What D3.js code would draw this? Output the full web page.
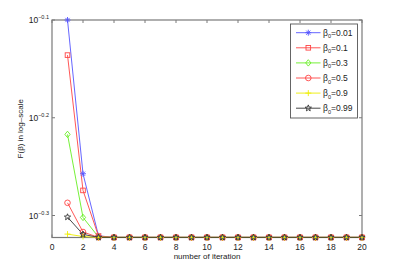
<!DOCTYPE html>
<html lang="en">
<head>
    <meta charset="UTF-8">
    <title>F(beta) per iteration</title>
    <script src="https://d3js.org/d3.v7.min.js"></script>
    <style>
        body { margin: 0; background: #fff; }
        svg { font-family: "Liberation Sans", Arial, sans-serif; }
    </style>
</head>
<body>
    <div id="chart"></div>
    <script>
        const iterations = d3.range(1, 21);
        const betaLabels = ["0.01", "0.1", "0.3", "0.5", "0.9", "0.99"];
        const fConverged = 0.4760;
        const beta001 = [0.7943, 0.5530, 0.4778];
        const beta01 = [0.7313, 0.5317, 0.4775];
        const beta03 = [0.6067, 0.4989, 0.4764];
        const beta05 = [0.5164, 0.4821, 0.4760];
        const beta09 = [0.4797, 0.4770, 0.4760];
        const beta099 = [0.4993, 0.4794, 0.4760];
        const xTicks = d3.range(0, 21, 2);
        const yTickExps = [-0.1, -0.2, -0.3];

        const colors = ["#5555ff", "#ff4444", "#66ee22", "#ff4444", "#eeee00", "#333333"];
        const markers = ["asterisk", "square", "diamond", "circle", "plus", "star"];

        const pad = arr => arr.concat(d3.range(iterations.length - arr.length).map(() => fConverged));
        const series = [beta001, beta01, beta03, beta05, beta09, beta099].map((s, i) => ({
            label: betaLabels[i],
            color: colors[i],
            marker: markers[i],
            values: pad(s)
        }));

        const width = 399, height = 268;
        const margin = { left: 52, right: 37, top: 20, bottom: 30.5 };

        const svg = d3.select("#chart").append("svg")
            .attr("width", width)
            .attr("height", height);

        const x = d3.scaleLinear().domain([0, 20]).range([margin.left, width - margin.right]);
        const y = d3.scaleLog().domain([Math.pow(10, -0.3225), Math.pow(10, -0.1)])
            .range([height - margin.bottom, margin.top]);

        const axisColor = "#7a7a7a";
        const yTickVals = yTickExps.map(e => Math.pow(10, e));

        // box + inside ticks
        const g = svg.append("g");
        g.append("rect")
            .attr("x", x(0)).attr("y", y.range()[1])
            .attr("width", x(20) - x(0)).attr("height", y.range()[0] - y.range()[1])
            .attr("fill", "none").attr("stroke", axisColor).attr("stroke-width", 1.2);

        xTicks.forEach(t => {
            g.append("line").attr("x1", x(t)).attr("x2", x(t))
                .attr("y1", y.range()[0]).attr("y2", y.range()[0] - 3).attr("stroke", axisColor);
            g.append("line").attr("x1", x(t)).attr("x2", x(t))
                .attr("y1", y.range()[1]).attr("y2", y.range()[1] + 3).attr("stroke", axisColor);
            g.append("text").attr("x", x(t)).attr("y", y.range()[0] + 12)
                .attr("text-anchor", "middle").attr("font-size", 8.5).attr("fill", "#222")
                .text(t);
        });

        yTickVals.forEach((v, i) => {
            g.append("line").attr("x1", x(0)).attr("x2", x(0) + 3)
                .attr("y1", y(v)).attr("y2", y(v)).attr("stroke", axisColor);
            g.append("line").attr("x1", x(20)).attr("x2", x(20) - 3)
                .attr("y1", y(v)).attr("y2", y(v)).attr("stroke", axisColor);
            const t = g.append("text").attr("x", x(0) - 3).attr("y", y(v) + 3)
                .attr("text-anchor", "end").attr("fill", "#222").attr("font-size", 8.5);
            t.append("tspan").text("10");
            t.append("tspan").attr("dy", -4).attr("font-size", 5.5)
                .text("\u2212" + Math.abs(yTickExps[i]));
        });

        // axis labels
        svg.append("text").attr("x", (x(0) + x(20)) / 2).attr("y", 259)
            .attr("text-anchor", "middle").attr("font-size", 8).attr("fill", "#222")
            .text("number of iteration");
        svg.append("text")
            .attr("transform", `translate(23,${(y.range()[0] + y.range()[1]) / 2}) rotate(-90)`)
            .attr("text-anchor", "middle").attr("font-size", 8).attr("fill", "#222")
            .text("F(β) in log–scale");

        function drawMarker(sel, type, color, cx, cy) {
            const m = sel.append("g").attr("transform", `translate(${cx},${cy})`)
                .attr("fill", "none").attr("stroke", color).attr("stroke-width", 0.9);
            if (type === "asterisk") {
                m.append("path").attr("d", "M-3,0H3M0,-3V3M-2.1,-2.1L2.1,2.1M-2.1,2.1L2.1,-2.1");
            } else if (type === "square") {
                m.append("rect").attr("x", -2.3).attr("y", -2.3).attr("width", 4.6).attr("height", 4.6);
            } else if (type === "diamond") {
                m.append("path").attr("d", "M0,-3.2L2.6,0L0,3.2L-2.6,0Z");
            } else if (type === "circle") {
                m.append("circle").attr("r", 2.8);
            } else if (type === "plus") {
                m.append("path").attr("d", "M-3,0H3M0,-3V3");
            } else if (type === "star") {
                const pts = d3.range(10).map(k => {
                    const r = k % 2 ? 1.4 : 3.3;
                    const a = -Math.PI / 2 + k * Math.PI / 5;
                    return [r * Math.cos(a), r * Math.sin(a)];
                });
                m.append("path").attr("d", "M" + pts.join("L") + "Z");
            }
        }

        const line = d3.line().x((d, i) => x(iterations[i])).y(d => y(d));

        series.forEach(s => {
            svg.append("path").datum(s.values)
                .attr("fill", "none").attr("stroke", s.color).attr("stroke-width", 0.9)
                .attr("d", line);
        });
        series.forEach(s => {
            s.values.forEach((v, i) => drawMarker(svg, s.marker, s.color, x(iterations[i]), y(v)));
        });

        // legend
        const lg = svg.append("g");
        lg.append("rect").attr("x", 290.5).attr("y", 24).attr("width", 67).attr("height", 94)
            .attr("fill", "#fff").attr("stroke", "#555").attr("stroke-width", 0.9);
        series.forEach((s, i) => {
            const ly = 32.7 + i * 15.1;
            lg.append("line").attr("x1", 296).attr("x2", 320.5).attr("y1", ly).attr("y2", ly)
                .attr("stroke", s.color).attr("stroke-width", 0.9);
            drawMarker(lg, s.marker, s.color, 308.3, ly);
            const t = lg.append("text").attr("x", 323).attr("y", ly + 3)
                .attr("font-size", 8.5).attr("fill", "#222");
            t.append("tspan").text("β");
            t.append("tspan").attr("dy", 2.5).attr("font-size", 5.5).text("0");
            t.append("tspan").attr("dy", -2.5).text("=" + s.label);
        });
    </script>
</body>
</html>
